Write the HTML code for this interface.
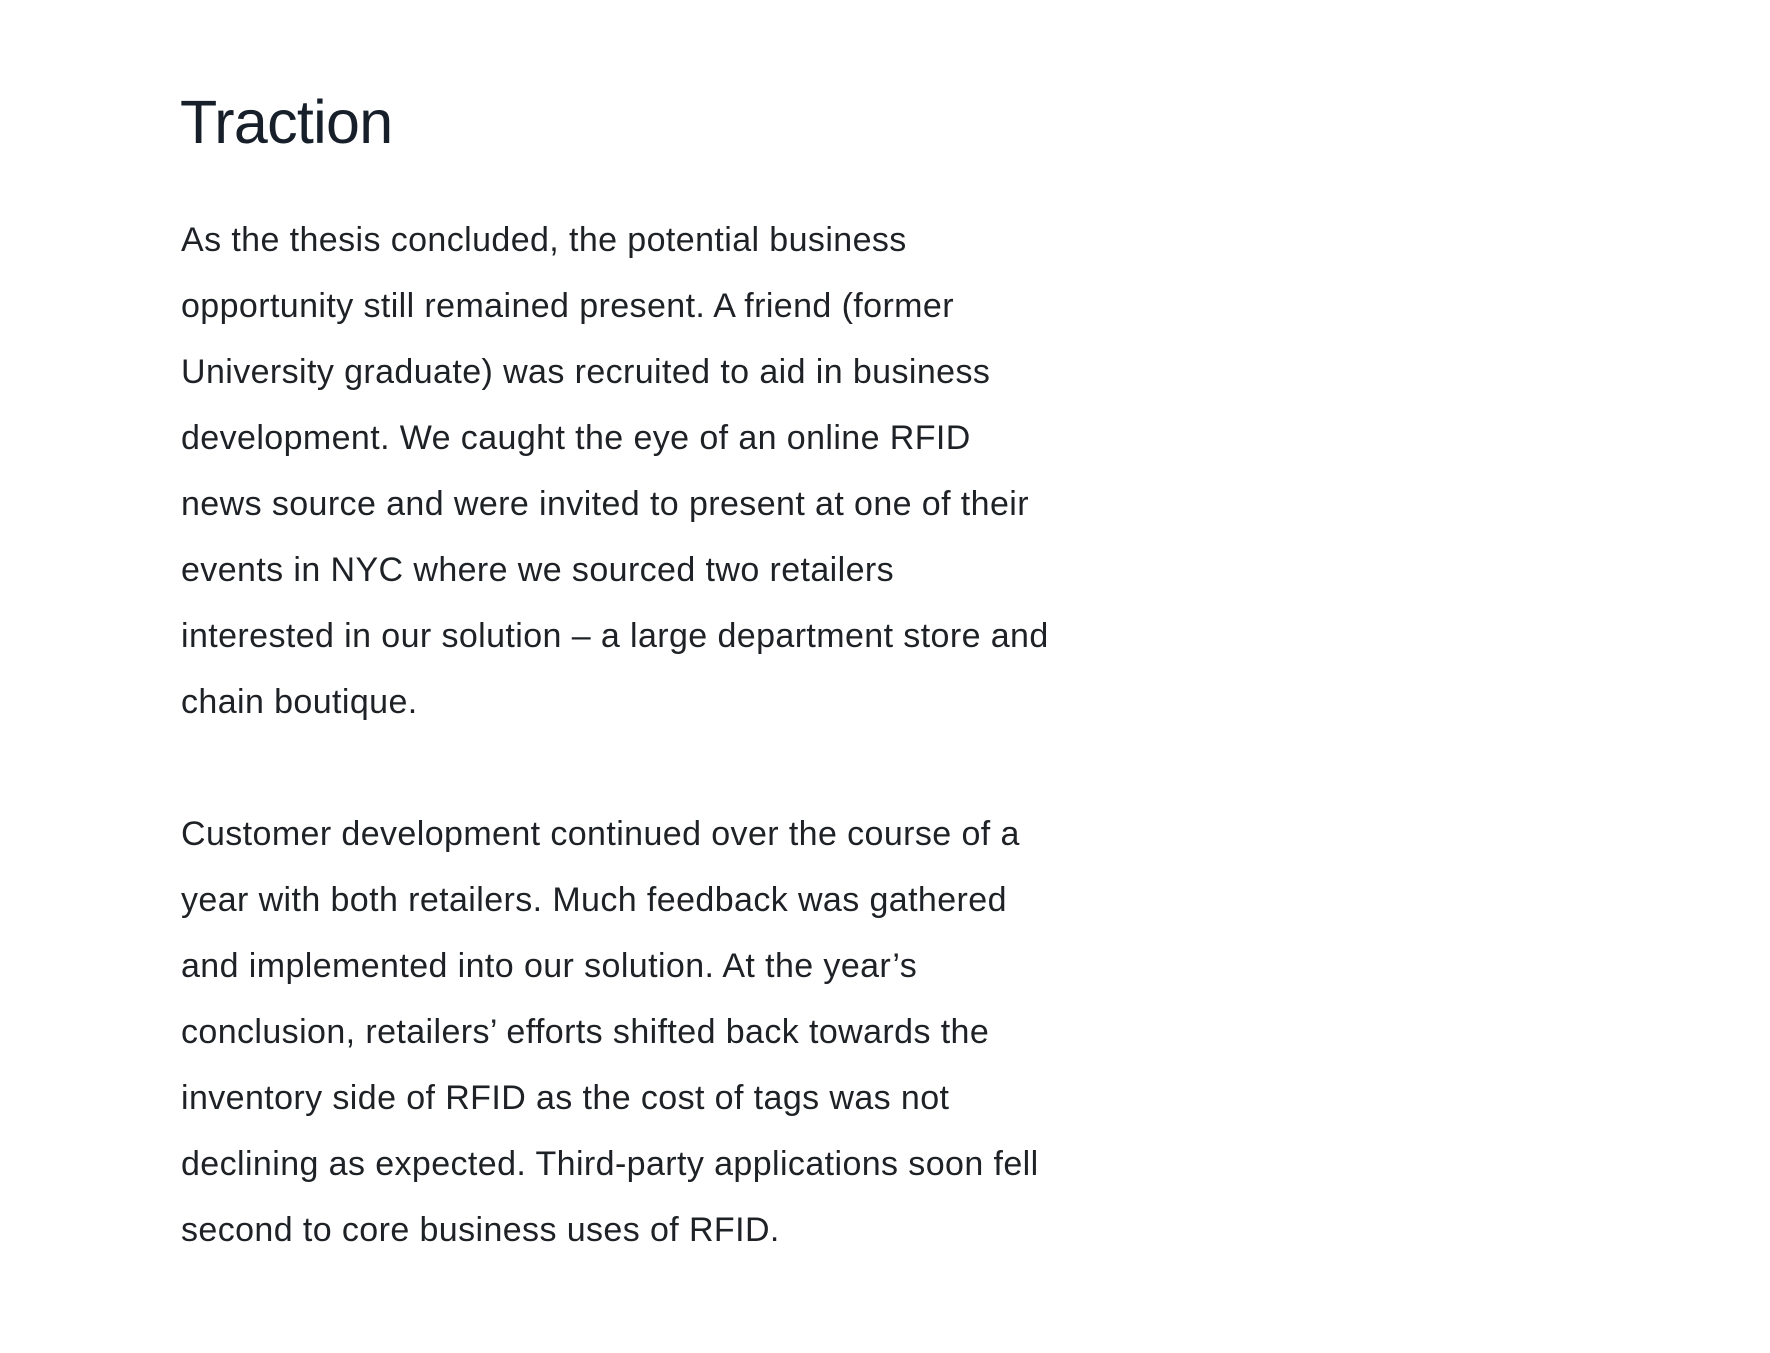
<!DOCTYPE html>
<html><head><meta charset="utf-8"><style>
html,body{margin:0;padding:0;background:#fff;width:1770px;height:1353px;overflow:hidden}
h1{position:absolute;left:180px;top:82px;margin:0;font:400 61px/80px "Liberation Sans",sans-serif;color:#17202a;letter-spacing:-0.7px}
.p{position:absolute;left:181px;margin:0;font:400 34px/66px "Liberation Sans",sans-serif;color:#1e2226;white-space:nowrap;letter-spacing:0.4px}
</style></head><body>
<h1>Traction</h1>
<p class="p" style="top:207px">As the thesis concluded, the potential business<br>opportunity still remained present. A friend (former<br>University graduate) was recruited to aid in business<br>development. We caught the eye of an online RFID<br>news source and were invited to present at one of their<br>events in NYC where we sourced two retailers<br>interested in our solution – a large department store and<br>chain boutique.</p>
<p class="p" style="top:801px">Customer development continued over the course of a<br>year with both retailers. Much feedback was gathered<br>and implemented into our solution. At the year’s<br>conclusion, retailers’ efforts shifted back towards the<br>inventory side of RFID as the cost of tags was not<br>declining as expected. Third-party applications soon fell<br>second to core business uses of RFID.</p>
</body></html>
